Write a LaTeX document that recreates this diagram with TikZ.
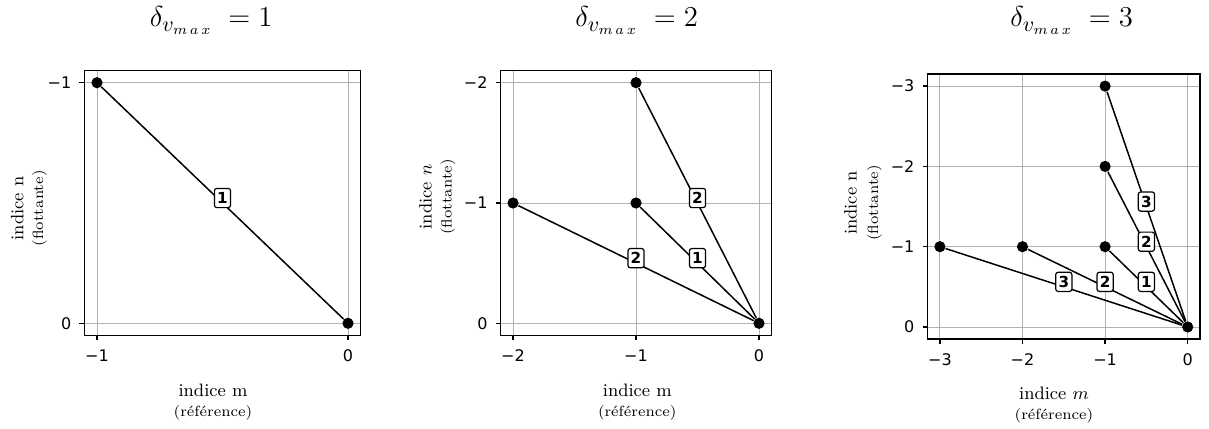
\documentclass[tikz,border=0pt]{standalone}
\usepackage{amsmath}
\usepackage{fontspec}
\newfontfamily\dejavu{DejaVu Sans}
\usetikzlibrary{positioning}

\tikzset{
  gridline/.style={gray!60, line width=0.5pt},
  frameline/.style={black, line width=0.75pt},
  pathline/.style={black, line width=0.75pt},
  dot/.style={circle, fill=black, inner sep=0pt, minimum size=5.6pt},
  ticklab/.style={inner sep=0pt, font=\dejavu\fontsize{8}{9.6}\selectfont},
  xtick/.style={ticklab, below=4.3pt},
  ytick/.style={ticklab, left=3.7pt},
  numbox/.style={draw, fill=white, rounded corners=1.2pt, line width=0.6pt,
    inner xsep=1.4pt, inner ysep=2pt, text height=5.6pt, text depth=0pt,
    font=\dejavu\bfseries\fontsize{7.6}{9}\selectfont, yshift=2.5pt},
  titlelab/.style={anchor=base, font=\fontsize{15}{17}\selectfont},
  axlab/.style={anchor=base, inner sep=0pt, font=\fontsize{9}{11}\selectfont},
  sublab/.style={anchor=base, inner sep=0pt, font=\fontsize{7.4}{9}\selectfont},
}

\begin{document}
\begin{tikzpicture}[x=0.5pt, y=-0.5pt]
  \useasboundingbox (0,0) rectangle (1209,428);

  % delta = 1
  \begin{scope}[shift={(348,323.3)}, x=125.5pt, y=-120.3pt]
    \foreach \t in {-1,0}
      {\draw[gridline] (\t,-1.05) -- (\t,0.05); \draw[gridline] (-1.05,\t) -- (0.05,\t);}
    \draw[frameline] (-1.05,-1.05) rectangle (0.05,0.05);
    \foreach \t/\l [count=\i] in {-1/−1, 0/0}
      {\draw[frameline] (\t,0.05) -- ++(0,-2.5pt) node[xtick] (xa\i) {\l};
       \draw[frameline] (-1.05,\t) -- ++(-2.5pt,0) node[ytick] (ya\i) {\l};}
    \node[dot] (o1) at (0,0) {};
    \node[dot] (a1) at (-1,-1) {};
    \draw[pathline] (a1) -- node[numbox] (ka1) {1} (o1);
  \end{scope}

  % delta = 2
  \begin{scope}[shift={(759,323.3)}, x=61.5pt, y=-60.15pt]
    \foreach \t in {-2,-1,0}
      {\draw[gridline] (\t,-2.1) -- (\t,0.1); \draw[gridline] (-2.1,\t) -- (0.1,\t);}
    \draw[frameline] (-2.1,-2.1) rectangle (0.1,0.1);
    \foreach \t/\l [count=\i] in {-2/−2, -1/−1, 0/0}
      {\draw[frameline] (\t,0.1) -- ++(0,-2.5pt) node[xtick] (xb\i) {\l};
       \draw[frameline] (-2.1,\t) -- ++(-2.5pt,0) node[ytick] (yb\i) {\l};}
    \node[dot] (o2) at (0,0) {};
    \foreach \nm/\m/\n/\d in {a/-1/-1/1, b/-2/-1/2, c/-1/-2/2}
      {\node[dot] (\nm2) at (\m,\n) {};
       \draw[pathline] (\nm2) -- node[numbox] (k\nm2) {\d} (o2);}
  \end{scope}

  % delta = 3
  \begin{scope}[shift={(1187.7,327)}, x=41.3pt, y=-40.15pt]
    \foreach \t in {-3,-2,-1,0}
      {\draw[gridline] (\t,-3.15) -- (\t,0.15); \draw[gridline] (-3.15,\t) -- (0.15,\t);}
    \draw[frameline] (-3.15,-3.15) rectangle (0.15,0.15);
    \foreach \t/\l [count=\i] in {-3/−3, -2/−2, -1/−1, 0/0}
      {\draw[frameline] (\t,0.15) -- ++(0,-2.5pt) node[xtick] (xc\i) {\l};
       \draw[frameline] (-3.15,\t) -- ++(-2.5pt,0) node[ytick] (yc\i) {\l};}
    \node[dot] (o3) at (0,0) {};
    \foreach \nm/\m/\n/\d in {a/-1/-1/1, b/-2/-1/2, c/-1/-2/2, d/-3/-1/3, e/-1/-3/3}
      {\node[dot] (\nm3) at (\m,\n) {};
       \draw[pathline] (\nm3) -- node[numbox] (k\nm3) {\d} (o3);}
  \end{scope}

  % titles
  \node[titlelab] (t1) at (211.2,26.7) {$\delta_{v_{m\,a\,x}}\;= 1$};
  \node[titlelab] (t2) at (636.7,26.7) {$\delta_{v_{m\,a\,x}}\;= 2$};
  \node[titlelab] (t3) at (1071.7,26.7) {$\delta_{v_{m\,a\,x}}\;= 3$};

  % axis labels
  \node[axlab] (m1) at (213,396.7) {indice m};
  \node[sublab] (r1) at (213,416.5) {(référence)};
  \node[axlab, rotate=90] (n1) at (23.3,208.3) {indice n};
  \node[sublab, rotate=90] (f1) at (43.2,208.3) {(flottante)};

  \node[axlab] (m2) at (637.3,396.7) {indice m};
  \node[sublab] (r2) at (637.3,416.5) {(référence)};
  \node[axlab, rotate=90] (n2) at (431.7,197) {indice $n$};
  \node[sublab, rotate=90] (f2) at (451.5,197) {(flottante)};

  \node[axlab] (m3) at (1054,399) {indice $m$};
  \node[sublab] (r3) at (1054,419.5) {(référence)};
  \node[axlab, rotate=90] (n3) at (856.7,203) {indice n};
  \node[sublab, rotate=90] (f3) at (878.2,203) {(flottante)};
\end{tikzpicture}
\end{document}
